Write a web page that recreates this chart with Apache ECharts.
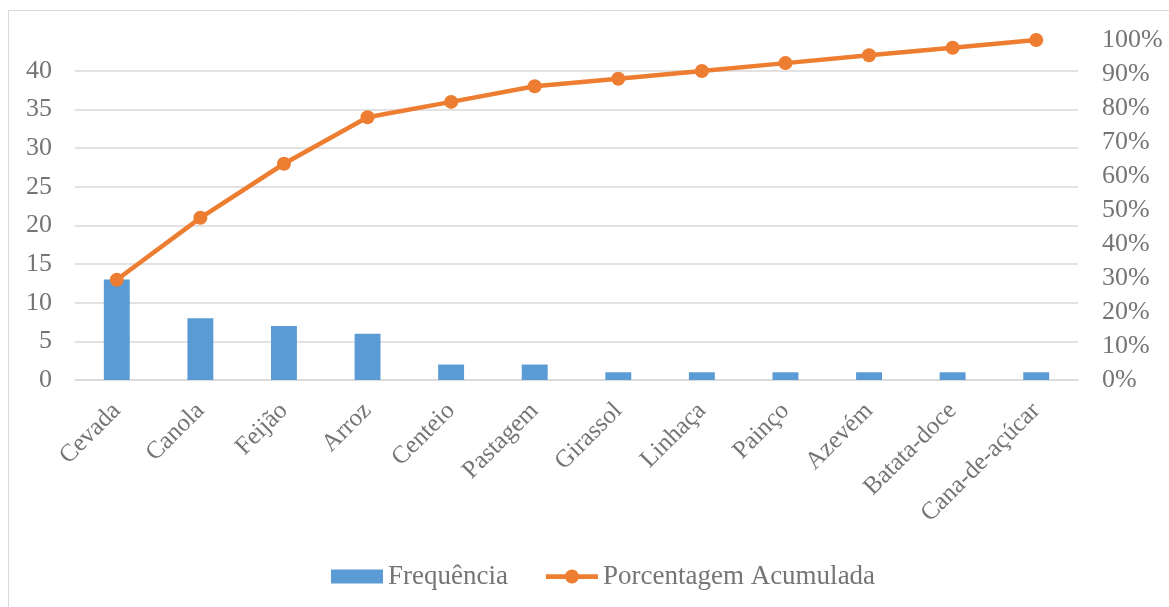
<!DOCTYPE html>
<html>
<head>
<meta charset="utf-8">
<script src="https://cdn.jsdelivr.net/npm/echarts@6/dist/echarts.min.js"></script>
<style>
html,body{margin:0;padding:0;background:#fff;}
#chart{width:1169px;height:607px;}
</style>
</head>
<body>
<div id="chart"></div>
<script>
const categories = ['Cevada','Canola','Feijão','Arroz','Centeio','Pastagem','Girassol','Linhaça','Painço','Azevém','Batata-doce','Cana-de-açúcar'];
const frequencia = [13, 8, 7, 6, 2, 2, 1, 1, 1, 1, 1, 1];
const acumulada = [29.5, 47.7, 63.6, 77.3, 81.8, 86.4, 88.6, 90.9, 93.2, 95.5, 97.7, 100];
const seriesNames = ['Frequência', 'Porcentagem Acumulada'];

const font = 'Liberation Serif, Times New Roman, serif';
const txt = '#757575';
const chart = echarts.init(document.getElementById('chart'));
chart.setOption({
  animation: false,
  graphic: [{
    type: 'rect', shape: {x: 8.5, y: 10.5, width: 1300, height: 1000},
    style: {fill: 'none', stroke: '#d9d9d9', lineWidth: 1}, silent: true, z: -10
  }],
  grid: {left: 75, right: 91, top: 40, bottom: 227},
  legend: {
    bottom: 12, left: 326, itemGap: 38, itemWidth: 52, itemHeight: 14,
    textStyle: {fontFamily: font, fontSize: 27, color: txt},
    data: [
      {name: seriesNames[0], icon: 'rect'},
      {name: seriesNames[1], icon: 'path://M0,4.75 H52 V9.5 H0 Z M19,7 A7,7 0 1,1 33,7 A7,7 0 1,1 19,7 Z'}
    ]
  },
  xAxis: {
    type: 'category', data: categories,
    axisLine: {lineStyle: {color: '#d9d9d9', width: 1.5}},
    axisTick: {show: false},
    axisLabel: {rotate: 45, interval: 0, margin: 27, fontFamily: font, fontSize: 25, color: txt}
  },
  yAxis: [{
    type: 'value', min: 0, max: 44, interval: 5,
    axisLine: {show: false}, axisTick: {show: false},
    axisLabel: {showMaxLabel: false, margin: 23, fontFamily: font, fontSize: 26, color: txt},
    splitLine: {showMaxLine: false, lineStyle: {color: '#d9d9d9', width: 1.5}}
  }, {
    type: 'value', min: 0, max: 100, interval: 10,
    axisLine: {show: false}, axisTick: {show: false}, splitLine: {show: false},
    axisLabel: {formatter: '{value}%', margin: 24, fontFamily: font, fontSize: 26, color: txt}
  }],
  series: [{
    name: seriesNames[0], type: 'bar', data: frequencia, barWidth: '31%',
    itemStyle: {color: '#5B9BD5'}
  }, {
    name: seriesNames[1], type: 'line', yAxisIndex: 1, data: acumulada,
    symbol: 'circle', symbolSize: 14,
    lineStyle: {color: '#ED7D31', width: 4.5}, itemStyle: {color: '#ED7D31'}
  }]
});
</script>
</body>
</html>
